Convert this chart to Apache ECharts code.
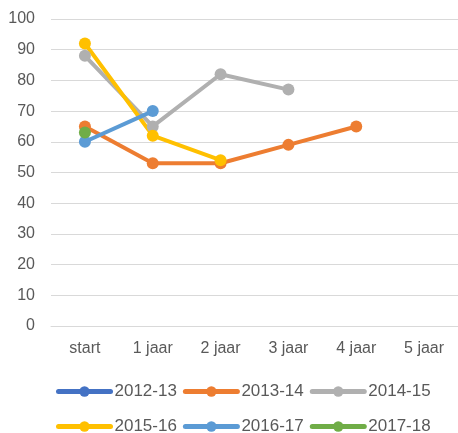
<!DOCTYPE html>
<html>
<head>
<meta charset="utf-8">
<script src="https://cdn.jsdelivr.net/npm/echarts@6/dist/echarts.min.js"></script>
<style>
	html, body { margin: 0; padding: 0; background: #fff; }
	#chart { width: 458px; height: 433px; }
</style>
</head>
<body>
<div id="chart"></div>
<script>
// categorieen en waarden
var categorieen = ['start', '1 jaar', '2 jaar', '3 jaar', '4 jaar', '5 jaar'];
var reeksNamen = ['2012-13', '2013-14', '2014-15', '2015-16', '2016-17', '2017-18'];
var kleuren = ['#4472C4', '#ED7D31', '#B0B0B0', '#FFC000', '#5B9BD5', '#70AD47'];

var w2012 = [];
var w2013 = [65, 53, 53, 59, 65];
var w2014 = [88, 65, 82, 77];
var w2015 = [92, 62, 54];
var w2016 = [60, 70];
var w2017 = [63];

var waarden = [w2012, w2013, w2014, w2015, w2016, w2017];

function initLijn(divName) {
	var myChart = echarts.init(document.getElementById(divName));
	var series = [];
	reeksNamen.forEach((naam, i) => {
		series.push({
			name: naam,
			type: 'line',
			data: waarden[i],
			symbol: 'circle',
			symbolSize: 12,
			lineStyle: { width: 4, color: kleuren[i] },
			itemStyle: { color: kleuren[i] }
		});
	});

	var legendStijl = {
		left: 56,
		padding: 0,
		itemWidth: 52,
		itemHeight: 13,
		itemGap: 6,
		textStyle: { fontSize: 17, color: '#595959', fontFamily: 'Liberation Sans', padding: [0, 0, 0, -1] },
		itemStyle: { borderWidth: 0 },
		lineStyle: { width: 5, cap: 'round' }
	};

	var option = {
		color: kleuren,
		animation: false,
		textStyle: { fontFamily: 'Liberation Sans' },
		grid: {
			left: 51,
			right: 0,
			top: 19,
			bottom: 107,
			containLabel: false
		},
		legend: [
			Object.assign({ top: 383, data: reeksNamen.slice(0, 3) }, legendStijl),
			Object.assign({ top: 418, data: reeksNamen.slice(3) }, legendStijl)
		],
		xAxis: {
			type: 'category',
			data: categorieen,
			boundaryGap: true,
			axisLine: { lineStyle: { color: '#d9d9d9', width: 1 } },
			axisTick: { show: false },
			axisLabel: { fontSize: 16, color: '#595959', margin: 15 }
		},
		yAxis: {
			type: 'value',
			min: 0,
			max: 100,
			interval: 10,
			axisLine: { show: false },
			axisTick: { show: false },
			splitLine: { lineStyle: { color: '#d9d9d9', width: 1 } },
			axisLabel: { fontSize: 16, color: '#595959', margin: 16 }
		},
		series
	};

	myChart.setOption(option, true);
}

initLijn('chart');
</script>
</body>
</html>
